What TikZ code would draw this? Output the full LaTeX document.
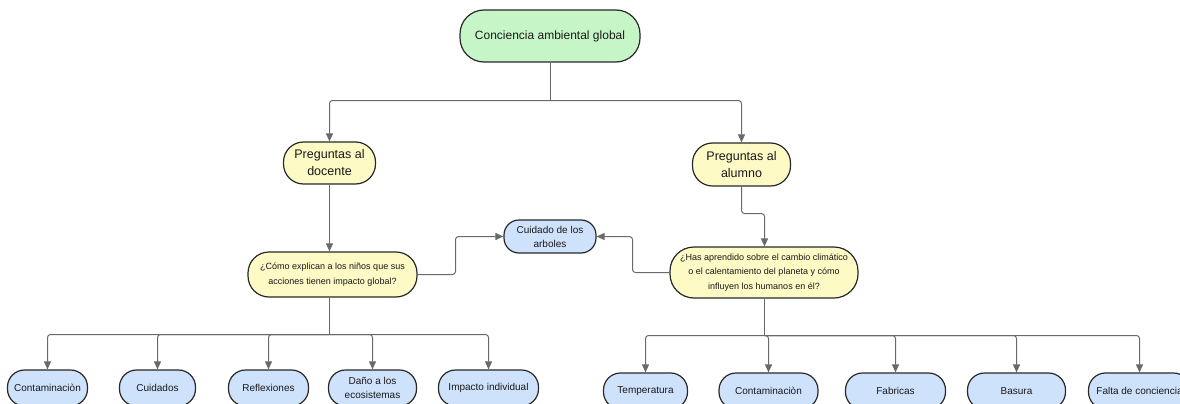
\documentclass[tikz,border=0pt]{standalone}
\usepackage{fontspec}
\setmainfont{Liberation Sans}
\usetikzlibrary{arrows.meta}
\definecolor{gfill}{RGB}{198,246,200}
\definecolor{yfill}{RGB}{253,250,198}
\definecolor{bfill}{RGB}{207,226,252}
\definecolor{edge}{RGB}{40,40,40}
\definecolor{conncol}{RGB}{105,105,105}
\tikzset{
  box/.style={draw=edge, line width=1.2pt, align=center, inner sep=0pt, text=black!90},
  line/.style={draw=conncol, line width=1pt, rounded corners=3pt},
  conn/.style={line, -{Triangle[length=8pt,width=7pt]}},
  f12/.style={font=\fontsize{12}{15}\selectfont},
  f13/.style={font=\fontsize{12.5}{17}\selectfont},
  f9/.style={font=\fontsize{9}{14.5}\selectfont},
  f10/.style={font=\fontsize{10}{14}\selectfont},
}
\begin{document}
\begin{tikzpicture}[x=1pt,y=-1pt]
\useasboundingbox (0,0) rectangle (1180,404);
\clip (0,0) rectangle (1180,404);
% main nodes
\node[box,f12,fill=gfill,minimum width=180,minimum height=52,rounded corners=24] (top) at (550,36) {Conciencia ambiental global};
\node[box,f13,fill=yfill,minimum width=92,minimum height=42,rounded corners=20] (doc) at (329.5,163) {Preguntas al\\docente};
\node[box,f13,fill=yfill,minimum width=98,minimum height=43,rounded corners=20] (alu) at (741.5,164.5) {Preguntas al\\alumno};
\node[box,f9,fill=yfill,minimum width=169,minimum height=45,rounded corners=21] (como) at (332.5,274.5) {¿Cómo explican a los niños que sus\\acciones tienen impacto global?};
\node[box,f10,fill=bfill,minimum width=92,minimum height=33,rounded corners=15] (cuid) at (550,236.5) {Cuidado de los\\arboles};
\node[box,f9,fill=yfill,minimum width=188,minimum height=51,rounded corners=24] (has) at (764,272.5) {¿Has aprendido sobre el cambio climático\\o el calentamiento del planeta y cómo\\influyen los humanos en él?};
% bottom left
\tikzset{bot/.style={box,f10,fill=bfill,minimum height=36,rounded corners=17}}
\node[bot,minimum width=80] (l1) at (47.5,388) {Contaminaciòn};
\node[bot,minimum width=76] (l2) at (157.5,388) {Cuidados};
\node[bot,minimum width=80] (l3) at (268.5,388) {Reflexiones};
\node[bot,minimum width=88] (l4) at (372.5,388) {Daño a los\\ecosistemas};
\node[bot,minimum width=100] (l5) at (488.5,388) {Impacto individual};
% bottom right
\node[bot,minimum width=84] (r1) at (645.5,391) {Temperatura};
\node[bot,minimum width=99] (r2) at (768.5,391) {Contaminaciòn};
\node[bot,minimum width=100] (r3) at (895.5,391) {Fabricas};
\node[bot,minimum width=98] (r4) at (1016.5,391) {Basura};
\node[bot,minimum width=102] (r5) at (1139.5,391) {Falta de conciencia};
% junctions
\coordinate (jt) at (550.5,100.5);
\coordinate (ja) at (741.5,213.5);
\coordinate (jc) at (455.5,274.5);
\coordinate (jh) at (632.5,272.5);
\coordinate (jl) at (329.5,334.5);
\coordinate (jr) at (764.5,335.5);
% connectors
\draw[line] (top.south -| jt) -- (jt);
\draw[conn] (jt) -| (doc.north);
\draw[conn] (jt) -| (alu.north);
\draw[conn] (doc.south) -- (doc.south |- como.north);
\draw[conn] (como.east) -- (jc) |- (cuid.west);
\draw[conn] (alu.south) -- (ja) -| (has.north -| jr);
\draw[conn] (has.west) -- (jh) |- (cuid.east);
\draw[line] (como.south -| jl) -- (jl);
\foreach \n in {l1,l2,l3,l4,l5}{
  \draw[conn] (jl) -| (\n.north);
}
\draw[line] (has.south -| jr) -- (jr);
\foreach \n in {r1,r2,r3,r4,r5}{
  \draw[conn] (jr) -| (\n.north);
}
\end{tikzpicture}
\end{document}
